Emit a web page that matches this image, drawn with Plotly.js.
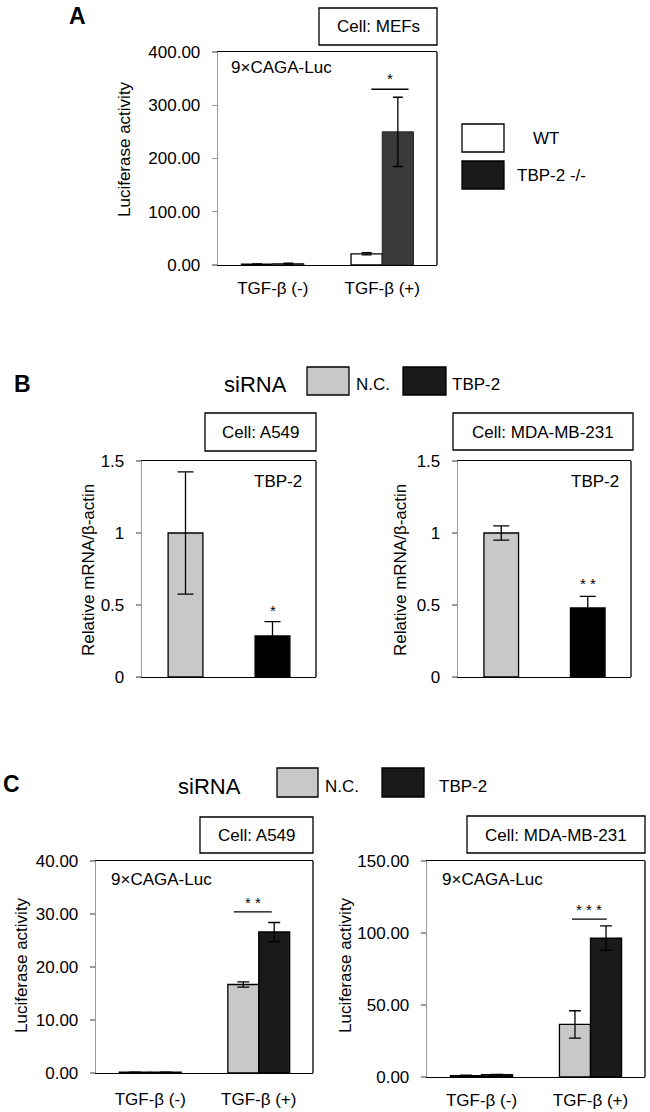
<!DOCTYPE html>
<html>
<head>
<meta charset="utf-8">
<script src="https://cdn.plot.ly/plotly-3.0.1.min.js"></script>
<style>
  body { margin: 0; background: #fff; }
  #plot { width: 650px; height: 1112px; }
</style>
</head>
<body>
<div id="plot"></div>
<script>
// categories
let tgfGroups = ["TGF-β (-)", "TGF-β (+)"];
let sirnaGroups = ["N.C.", "TBP-2"];

// panel A: MEFs, 9xCAGA-Luc
let mefWT = [1.5, 21];
let mefWTErr = [0.5, 2];
let mefKO = [2.5, 250];
let mefKOErr = [1, 65];

// panel B: TBP-2 mRNA
let a549Mrna = [1, 0.285];
let a549MrnaErr = [0.425, 0.1];
let mdaMrna = [1, 0.48];
let mdaMrnaErr = [0.05, 0.08];

// panel C: 9xCAGA-Luc with siRNA
let a549NC = [0.15, 16.7];
let a549NCErr = [0.03, 0.5];
let a549Si = [0.15, 26.6];
let a549SiErr = [0.03, 1.8];
let mdaNC = [1.0, 36.5];
let mdaNCErr = [0.2, 9.5];
let mdaSi = [1.6, 96.5];
let mdaSiErr = [0.2, 8.5];

// page is 650 x 1112, turn pixel positions into paper coords
const W = 650, H = 1112;
let px = v => v / W;
let py = v => 1 - v / H;

const FONT = "Liberation Sans, Arial, sans-serif";

function errBar(arr, w) {
    return {type: "data", array: arr, visible: true, color: "#000", thickness: 1.3, width: w};
}

function xAxis(left, right, labels, standoff) {
    return {
        domain: [px(left), px(right)],
        type: "category",
        range: [-0.5, 1.5],
        showline: true, linecolor: "#000", linewidth: 1.3, mirror: true,
        ticks: "", showgrid: false, zeroline: false,
        showticklabels: labels,
        ticklabelstandoff: standoff,
        tickfont: {size: 17, family: FONT, color: "#000"},
        fixedrange: true
    };
}

function yAxis(top, bottom, range, dtick, fmt) {
    return {
        domain: [py(bottom), py(top)],
        range: range, dtick: dtick, tick0: 0, tickformat: fmt,
        showline: true, linecolor: "#9a9a9a", linewidth: 1.3,
        ticks: "outside", ticklen: 5, tickcolor: "#9a9a9a", tickwidth: 1.3,
        showgrid: false, zeroline: false,
        ticklabelstandoff: 8,
        tickfont: {size: 17, family: FONT, color: "#000"},
        fixedrange: true
    };
}

let data = [
    // A
    {type: "bar", x: tgfGroups, y: mefWT, error_y: errBar(mefWTErr, 5),
     marker: {color: "#ffffff", line: {color: "#000", width: 1.3}}, xaxis: "x", yaxis: "y"},
    {type: "bar", x: tgfGroups, y: mefKO, error_y: errBar(mefKOErr, 5),
     marker: {color: "#3a3a3a", line: {color: "#222", width: 1}}, xaxis: "x", yaxis: "y"},
    // B
    {type: "bar", x: sirnaGroups, y: a549Mrna, width: 0.4, error_y: errBar(a549MrnaErr, 8),
     marker: {color: ["#c8c8c8", "#000000"], line: {color: "#000", width: 1.3}}, xaxis: "x2", yaxis: "y2"},
    {type: "bar", x: sirnaGroups, y: mdaMrna, width: 0.4, error_y: errBar(mdaMrnaErr, 8),
     marker: {color: ["#c8c8c8", "#000000"], line: {color: "#000", width: 1.3}}, xaxis: "x3", yaxis: "y3"},
    // C
    {type: "bar", x: tgfGroups, y: a549NC, error_y: errBar(a549NCErr, 6),
     marker: {color: "#c8c8c8", line: {color: "#000", width: 1.3}}, xaxis: "x4", yaxis: "y4"},
    {type: "bar", x: tgfGroups, y: a549Si, error_y: errBar(a549SiErr, 6),
     marker: {color: "#1a1a1a", line: {color: "#000", width: 1.3}}, xaxis: "x4", yaxis: "y4"},
    {type: "bar", x: tgfGroups, y: mdaNC, error_y: errBar(mdaNCErr, 6),
     marker: {color: "#c8c8c8", line: {color: "#000", width: 1.3}}, xaxis: "x5", yaxis: "y5"},
    {type: "bar", x: tgfGroups, y: mdaSi, error_y: errBar(mdaSiErr, 6),
     marker: {color: "#1a1a1a", line: {color: "#000", width: 1.3}}, xaxis: "x5", yaxis: "y5"}
];
data.forEach(t => t.showlegend = false);

// boxes, legends, significance lines
let shapes = [];
let annotations = [];

function rightEdge(n) {
    let s = n === 1 ? "" : n;
    shapes.push({type: "line", xref: "x" + s + " domain", yref: "y" + s + " domain",
        x0: 1, x1: 1, y0: 0, y1: 1, line: {color: "#000", width: 1.3}});
}
[1, 2, 3, 4, 5].forEach(rightEdge);

function paperBox(x0, y0, x1, y1, fill) {
    shapes.push({type: "rect", xref: "paper", yref: "paper",
        x0: px(x0), x1: px(x1), y0: py(y1), y1: py(y0),
        fillcolor: fill, line: {color: "#000", width: 1.3}});
}

function paperText(text, x, y, size, xanchor, angle) {
    annotations.push({xref: "paper", yref: "paper", x: px(x), y: py(y), text: text,
        showarrow: false, xanchor: xanchor || "center", yanchor: "middle",
        textangle: angle || 0, font: {size: size, family: FONT, color: "#000"}});
}

function sig(n, x0, x1, yLine, yStar, stars) {
    let s = n === 1 ? "" : n;
    if (yLine !== null) {
        shapes.push({type: "line", xref: "x" + s, yref: "y" + s, x0: x0, x1: x1,
            y0: yLine, y1: yLine, line: {color: "#000", width: 1.3}});
    }
    annotations.push({xref: "x" + s, yref: "y" + s, x: (x0 + x1) / 2, y: yStar, text: stars,
        showarrow: false, xanchor: "center", yanchor: "middle",
        font: {size: 15, family: FONT, color: "#000"}});
}

// panel letters
paperText("<b>A</b>", 77, 16, 23);
paperText("<b>B</b>", 22, 384, 23);
paperText("<b>C</b>", 11, 784, 23);

// cell boxes
paperBox(319, 8, 437, 45, "#fff");
paperText("Cell: MEFs", 378, 27, 17);
paperBox(205, 413, 316, 451, "#fff");
paperText("Cell: A549", 260.5, 432, 17);
paperBox(453, 413, 633, 450, "#fff");
paperText("Cell: MDA-MB-231", 543, 432, 17);
paperBox(200, 817, 313, 853, "#fff");
paperText("Cell: A549", 256.5, 835, 17);
paperBox(467, 816, 645, 853, "#fff");
paperText("Cell: MDA-MB-231", 556, 835, 17);

// y axis titles
paperText("Luciferase activity", 125, 149, 17, "center", -90);
paperText("Relative mRNA/β-actin", 88, 570, 17, "center", -90);
paperText("Relative mRNA/β-actin", 400, 570, 17, "center", -90);
paperText("Luciferase activity", 21, 965, 17, "center", -90);
paperText("Luciferase activity", 345, 965, 17, "center", -90);

// inner labels
paperText("9×CAGA-Luc", 229, 68, 17, "left");
paperText("9×CAGA-Luc", 109, 879, 17, "left");
paperText("9×CAGA-Luc", 440, 879, 17, "left");
paperText("TBP-2", 304, 482, 17, "right");
paperText("TBP-2", 621, 482, 17, "right");

// legend A
paperBox(462, 124, 504, 152, "#ffffff");
paperText("WT", 546, 138, 17);
paperBox(462, 161, 504, 189, "#1a1a1a");
paperText("TBP-2 -/-", 551, 175, 17);

// legend B
paperText("siRNA", 255, 384, 22);
paperBox(307, 367, 349, 395, "#c8c8c8");
paperText("N.C.", 354, 384, 17, "left");
paperBox(403, 367, 446, 395, "#1a1a1a");
paperText("TBP-2", 450, 384, 17, "left");

// legend C
paperText("siRNA", 209, 786, 22);
paperBox(277, 768, 318, 797, "#c8c8c8");
paperText("N.C.", 323, 786, 17, "left");
paperBox(382, 768, 424, 797, "#1a1a1a");
paperText("TBP-2", 437, 786, 17, "left");

// significance marks
sig(1, 0.9, 1.24, 330, 350, "*");
sig(2, 1, 1, null, 0.46, "*");
sig(3, 1, 1, null, 0.65, "* *");
sig(4, 0.77, 1.12, 30.4, 32.2, "* *");
sig(5, 0.83, 1.15, 109.7, 116, "* * *");

let layout = {
    width: W, height: H,
    margin: {l: 0, r: 0, t: 0, b: 0},
    paper_bgcolor: "#fff", plot_bgcolor: "#fff",
    font: {family: FONT, size: 17, color: "#000"},
    barmode: "group", bargap: 0.43, bargroupgap: 0,
    showlegend: false,
    xaxis: Object.assign(xAxis(218, 437, true, 7), {anchor: "y"}),
    yaxis: Object.assign(yAxis(52, 265, [0, 400], 100, ".2f"), {anchor: "x"}),
    xaxis2: Object.assign(xAxis(142, 316, false, 10), {anchor: "y2"}),
    yaxis2: Object.assign(yAxis(461, 677, [0, 1.5], 0.5, ""), {anchor: "x2"}),
    xaxis3: Object.assign(xAxis(458, 631, false, 10), {anchor: "y3"}),
    yaxis3: Object.assign(yAxis(461, 677, [0, 1.5], 0.5, ""), {anchor: "x3"}),
    xaxis4: Object.assign(xAxis(96, 313, true, 10), {anchor: "y4"}),
    yaxis4: Object.assign(yAxis(861, 1073, [0, 40], 10, ".2f"), {anchor: "x4"}),
    xaxis5: Object.assign(xAxis(427, 645, true, 7), {anchor: "y5"}),
    yaxis5: Object.assign(yAxis(861, 1077, [0, 150], 50, ".2f"), {anchor: "x5"}),
    shapes: shapes,
    annotations: annotations
};

Plotly.newPlot("plot", data, layout, {displayModeBar: false, staticPlot: true});
</script>
</body>
</html>
